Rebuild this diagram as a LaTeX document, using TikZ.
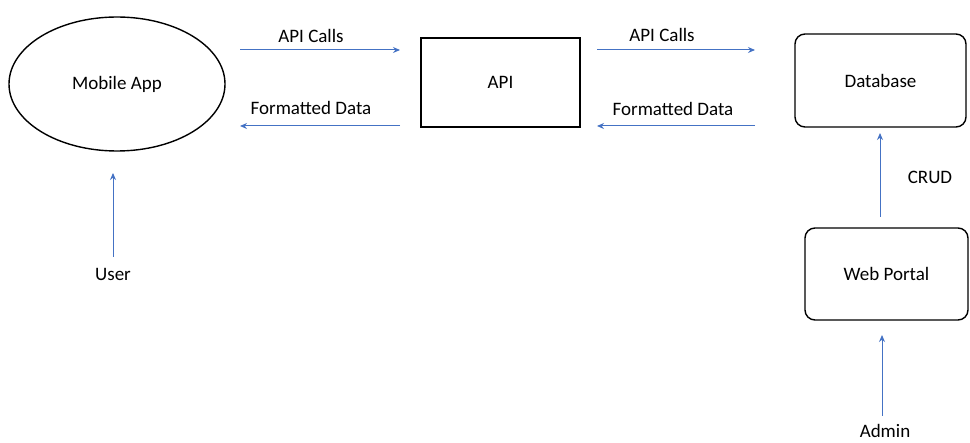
\documentclass[tikz,border=0pt]{standalone}
\usepackage{fontspec}
\setmainfont{Carlito}
\usetikzlibrary{shapes.geometric,arrows.meta}
\definecolor{flowblue}{RGB}{68,114,196}

\begin{document}
\begin{tikzpicture}[x=0.5pt,y=-0.5pt,font=\fontsize{9.5}{11}\selectfont,
	box/.style={draw,line width=0.7pt,inner sep=0pt},
	flow/.style={draw=flowblue,line width=0.5pt,-{Stealth[length=3.5pt,width=3pt]}}]
	\useasboundingbox (0,0) rectangle (970,443);
	% main blocks
	\node[box,ellipse,minimum width=108pt,minimum height=67pt] (app) at (117,84) {Mobile App};
	\node[box,minimum width=79.5pt,minimum height=44.5pt] (api) at (500.5,82.5) {API};
	\node[box,rounded corners=5pt,minimum width=85.5pt,minimum height=46.5pt] (db) at (880.5,80.5) {Database};
	\node[box,rounded corners=5pt,minimum width=81.5pt,minimum height=46pt] (portal) at (886.5,274) {Web Portal};
	% labels
	\node (callsL) at (311,36) {API Calls};
	\node (dataL) at (311,108) {Formatted Data};
	\node (callsR) at (662,35) {API Calls};
	\node (dataR) at (673,109) {Formatted Data};
	\node (crud) at (930,177) {CRUD};
	\node (user) at (113,274) {User};
	\node (admin) at (885,431) {Admin};
	% arrow ends
	\coordinate (c1a) at (240,50);  \coordinate (c1b) at (400,50);
	\coordinate (d1a) at (400,126); \coordinate (d1b) at (240,126);
	\coordinate (c2a) at (597,50);  \coordinate (c2b) at (755,50);
	\coordinate (d2a) at (755,126); \coordinate (d2b) at (597,126);
	\coordinate (crudA) at (880,217); \coordinate (crudB) at (880,133);
	\coordinate (userA) at (113,257); \coordinate (userB) at (113,173);
	\coordinate (adminA) at (882,416); \coordinate (adminB) at (882,335);
	\draw[flow] (c1a) -- (c1b);
	\draw[flow] (d1a) -- (d1b);
	\draw[flow] (c2a) -- (c2b);
	\draw[flow] (d2a) -- (d2b);
	\draw[flow] (crudA) -- (crudB);
	\draw[flow] (userA) -- (userB);
	\draw[flow] (adminA) -- (adminB);
\end{tikzpicture}
\end{document}
